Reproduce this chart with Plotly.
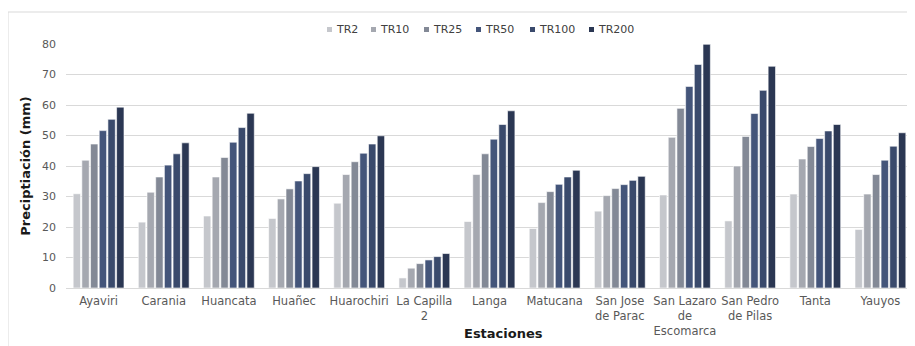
import plotly.graph_objects as go

estaciones = ["Ayaviri", "Carania", "Huancata", "Huañec", "Huarochiri", "La Capilla<br>2",
              "Langa", "Matucana", "San Jose<br>de Parac", "San Lazaro<br>de<br>Escomarca",
              "San Pedro<br>de Pilas", "Tanta", "Yauyos"]

tr2 = [30.9, 21.6, 23.6, 22.8, 27.8, 3.3, 21.8, 19.5, 25.2, 30.5, 22.0, 30.8, 19.2]
tr10 = [41.9, 31.4, 36.4, 29.2, 37.2, 6.5, 37.2, 28.0, 30.3, 49.4, 40.0, 42.3, 30.8]
tr25 = [47.2, 36.4, 42.8, 32.5, 41.4, 8.0, 44.0, 31.6, 32.6, 58.9, 49.7, 46.4, 37.2]
tr50 = [51.6, 40.3, 47.8, 35.1, 44.2, 9.2, 48.8, 34.0, 33.9, 66.1, 57.2, 49.0, 41.9]
tr100 = [55.3, 44.0, 52.6, 37.5, 47.2, 10.3, 53.6, 36.4, 35.3, 73.3, 64.8, 51.5, 46.5]
tr200 = [59.3, 47.6, 57.3, 39.8, 49.9, 11.3, 58.1, 38.6, 36.6, 79.9, 72.7, 53.6, 50.9]

series_names = ["TR2", "TR10", "TR25", "TR50", "TR100", "TR200"]
series_values = [tr2, tr10, tr25, tr50, tr100, tr200]
colors = ["#c5c7cc", "#a5a8b0", "#838996", "#44557a", "#3a4a6c", "#2b3753"]

# figure geometry (page body adds an 8px offset)
W, H = 907, 338
L, R, T, B = 58, 2, 36, 58
PW, PH = W - L - R, H - T - B
OFF = 8


def px(xp):
    return (xp - OFF - L) / PW


def py(yp):
    return (H - B - (yp - OFF)) / PH


fig = go.Figure()
for name, vals, col in zip(series_names, series_values, colors):
    fig.add_trace(go.Bar(x=estaciones, y=vals, name=name, showlegend=False,
                         marker=dict(color=col, line=dict(color="white", width=0.6))))

font_family = "DejaVu Sans, Verdana, sans-serif"

shapes = [dict(type="rect", xref="paper", yref="paper",
               x0=px(8), x1=px(960), y0=py(400), y1=py(12),
               line=dict(color="#d9d9d9", width=1), fillcolor="rgba(0,0,0,0)", layer="below")]
annotations = []

# custom legend
sq_x = [327, 371, 424, 476, 530, 589]
leg_y = 29
for name, col, sx in zip(series_names, colors, sq_x):
    shapes.append(dict(type="rect", xref="paper", yref="paper",
                       x0=px(sx), x1=px(sx + 5), y0=py(leg_y + 3), y1=py(leg_y - 2),
                       line=dict(width=0), fillcolor=col))
    annotations.append(dict(text=name, xref="paper", yref="paper", x=px(sx + 7), y=py(leg_y),
                            xanchor="left", yanchor="middle", showarrow=False,
                            font=dict(size=11, color="#404040")))

# x axis title
annotations.append(dict(text="<b>Estaciones</b>", xref="paper", yref="paper",
                        x=px(503), y=py(334), xanchor="center", yanchor="middle",
                        showarrow=False, font=dict(size=13, color="#1a1a1a")))

fig.update_layout(
    width=W, height=H,
    margin=dict(l=L, r=R, t=T, b=B),
    paper_bgcolor="white", plot_bgcolor="white",
    barmode="group", bargap=0.2, bargroupgap=0.15,
    font=dict(family=font_family, size=11, color="#595959"),
    showlegend=False,
    xaxis=dict(showgrid=False, showline=True, linecolor="#d9d9d9", linewidth=1,
               tickfont=dict(size=11.5, color="#595959"), ticks="", ticklabelstandoff=2),
    yaxis=dict(range=[0, 80], dtick=10, showgrid=True, gridcolor="#d9d9d9", gridwidth=1,
               zeroline=False, ticks="", ticklabelstandoff=9,
               tickfont=dict(size=11, color="#595959"),
               title=dict(text="<b>Preciptiación (mm)</b>", font=dict(size=13, color="#1a1a1a"),
                          standoff=8)),
    shapes=shapes,
    annotations=annotations,
)

fig.write_html("out.html")
